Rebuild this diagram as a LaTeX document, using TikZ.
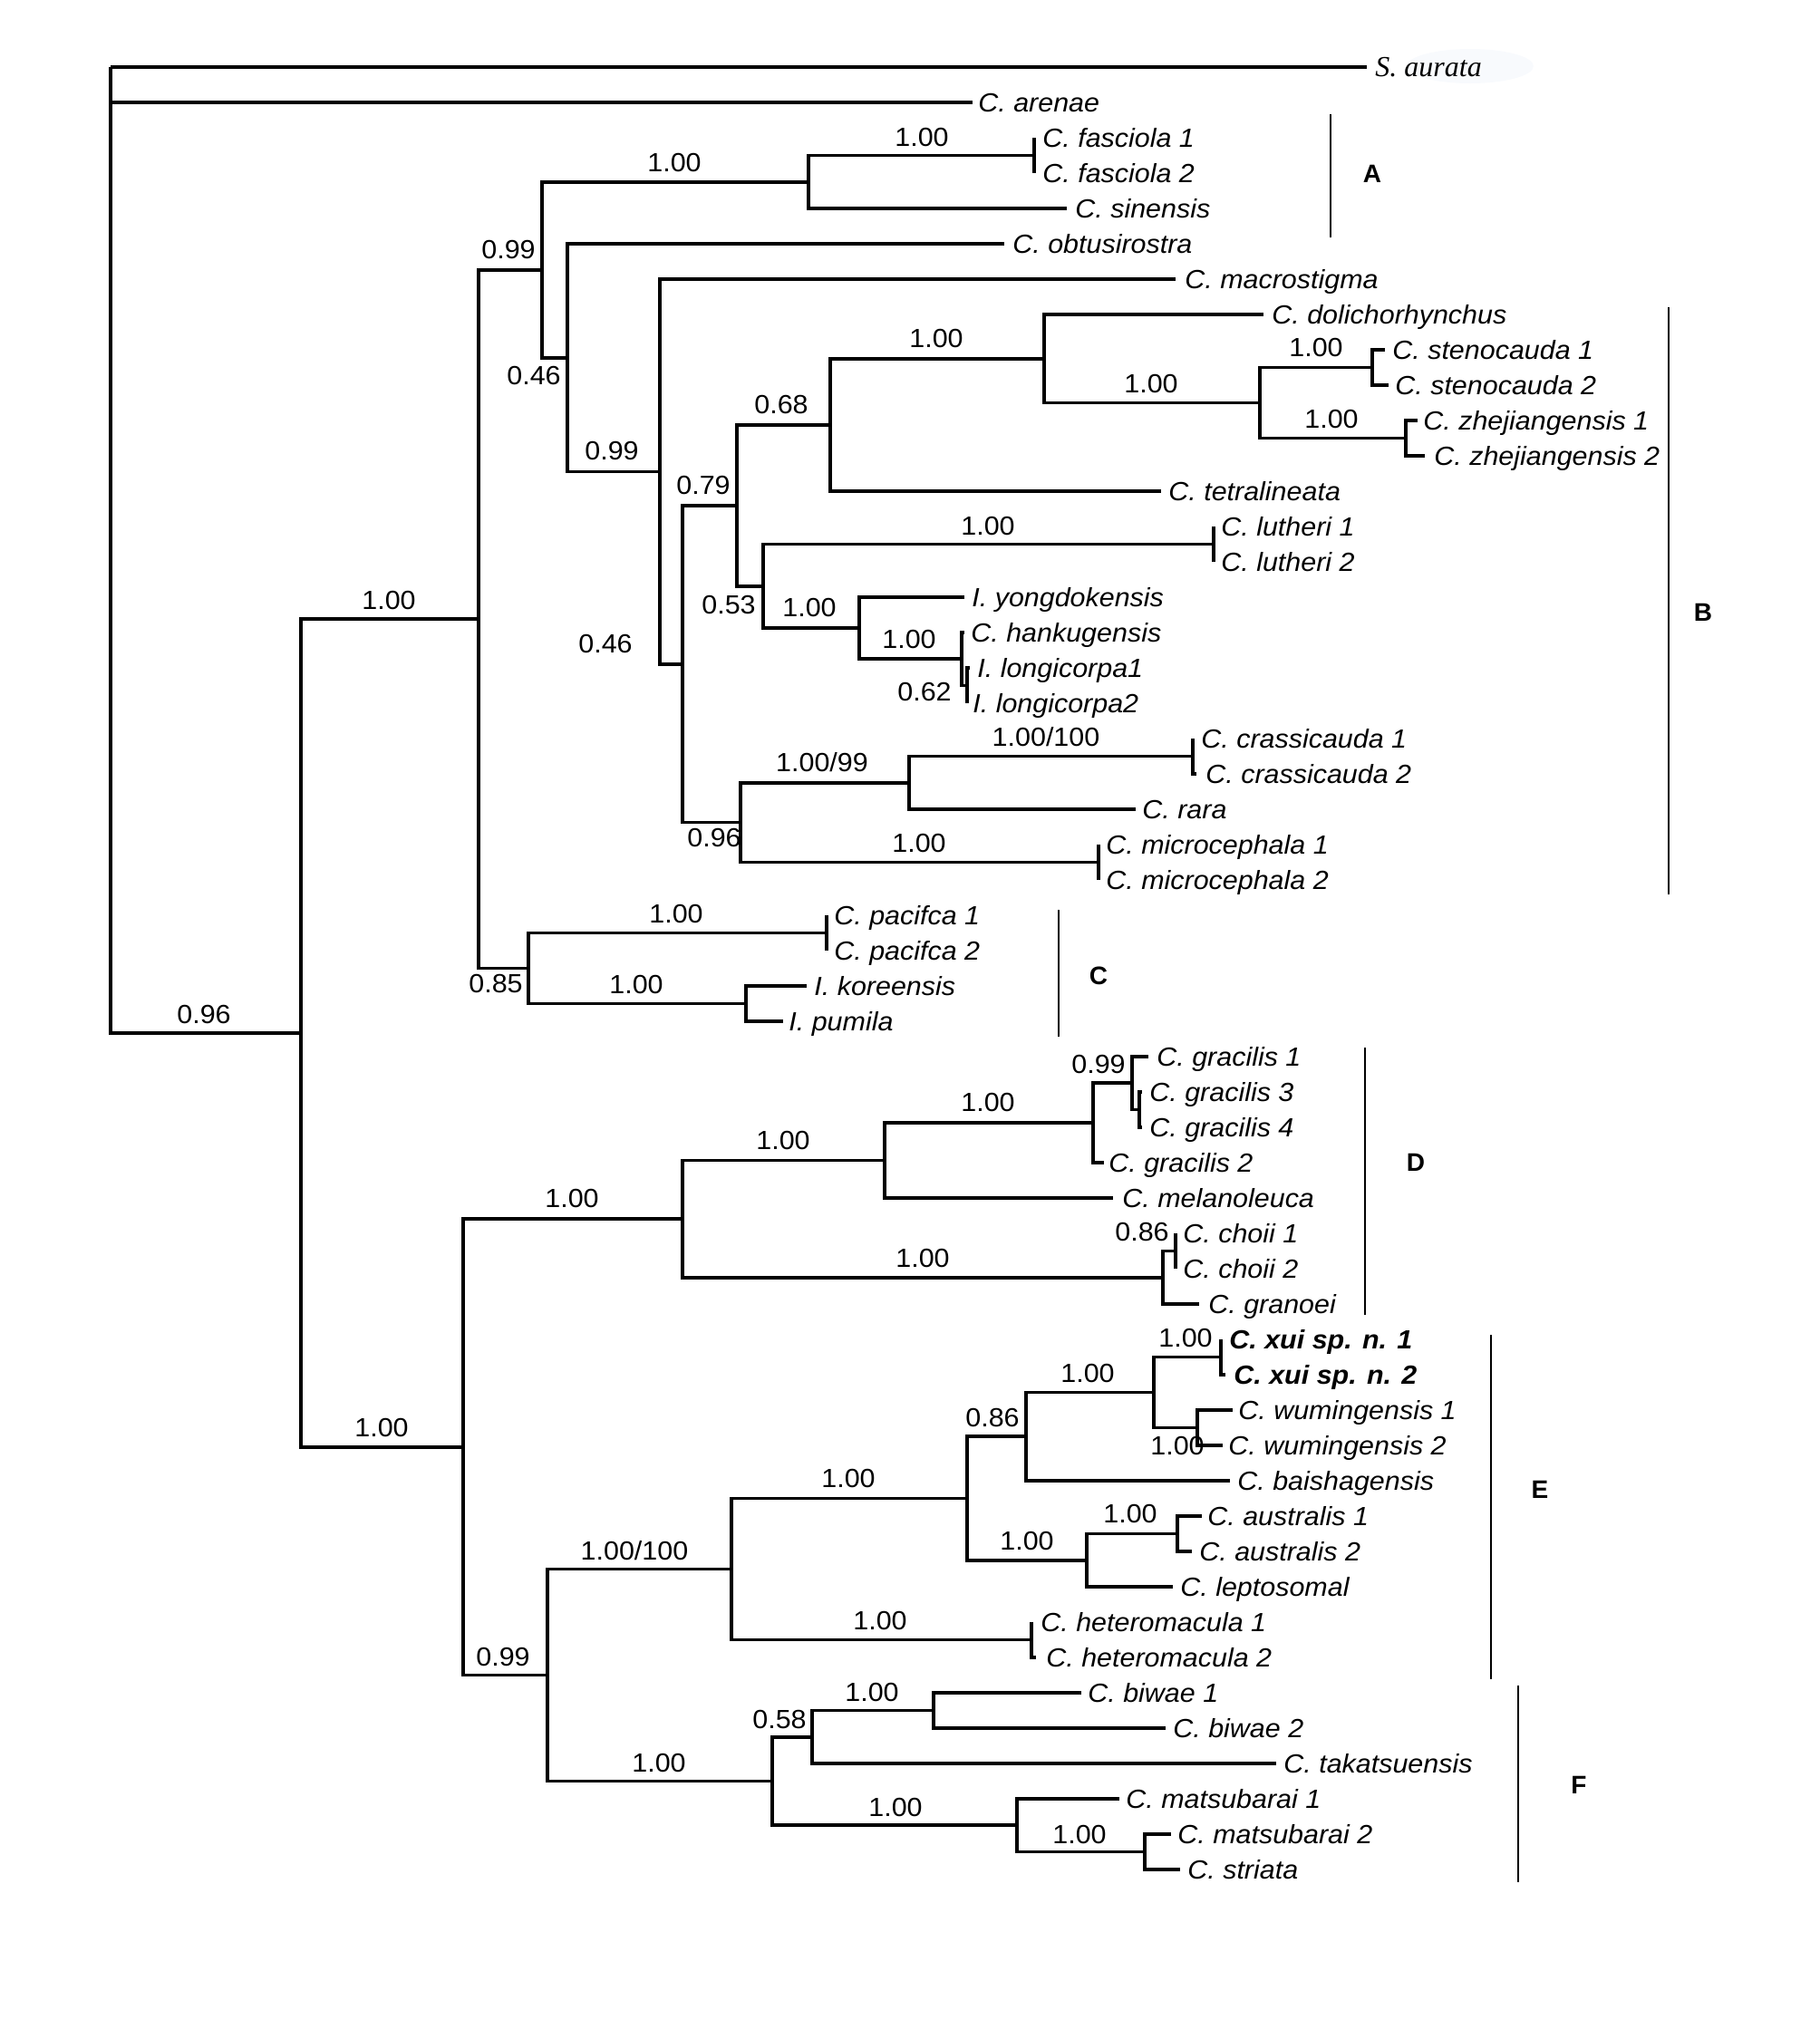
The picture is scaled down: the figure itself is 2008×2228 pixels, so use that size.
\documentclass[tikz,border=0pt]{standalone}
\usepackage{fontspec}
\setmainfont{Liberation Sans}[FakeStretch=1.05]
\newfontfamily\cladefont{Liberation Sans}
\newfontfamily\serifit{Liberation Serif}
\begin{document}
\begin{tikzpicture}[x=0.5pt,y=-0.5pt,
  br/.style={line width=1.8pt},
  cbar/.style={line width=1.2pt},
  sp/.style={anchor=base west,inner sep=0pt,yshift=-5.2pt,font=\fontsize{14.5}{17}\selectfont\itshape},
  spb/.style={anchor=base west,inner sep=0pt,yshift=-5.2pt,font=\fontsize{14.5}{17}\selectfont\bfseries\itshape},
  sps/.style={anchor=base west,inner sep=0pt,yshift=-5.3pt,font=\fontsize{16}{19}\selectfont\serifit\itshape},
  sv/.style={anchor=base,inner sep=0pt,yshift=-5.2pt,font=\fontsize{14.5}{17}\selectfont},
  cl/.style={anchor=base,inner sep=0pt,yshift=-5pt,font=\fontsize{14}{16}\selectfont\cladefont\bfseries},
]
\useasboundingbox (0,0) rectangle (2008,2228);
% faint smudge after S. aurata
\fill[color={rgb,255:red,248;green,250;blue,253}] (1622,73) ellipse [x radius=70, y radius=19];

% ---------- tip ends and labels ----------
\coordinate (e0) at (1508,74);  \node[sps] (t0) at (1517,74) {S. aurata};
\coordinate (e1) at (1073,113); \node[sp] (t1) at (1079,113) {C. arenae};
\coordinate (e2) at (1141,152); \node[sp] (t2) at (1150,152) {C. fasciola 1};
\coordinate (e3) at (1141,191); \node[sp] (t3) at (1150,191) {C. fasciola 2};
\coordinate (e4) at (1177,230); \node[sp] (t4) at (1186,230) {C. sinensis};
\coordinate (e5) at (1108,269); \node[sp] (t5) at (1117,269) {C. obtusirostra};
\coordinate (e6) at (1297,308); \node[sp] (t6) at (1307,308) {C. macrostigma};
\coordinate (e7) at (1394,347); \node[sp] (t7) at (1403,347) {C. dolichorhynchus};
\coordinate (e8) at (1528,386); \node[sp] (t8) at (1536,386) {C. stenocauda 1};
\coordinate (e9) at (1532,425); \node[sp] (t9) at (1539,425) {C. stenocauda 2};
\coordinate (e10) at (1564,464); \node[sp] (t10) at (1570,464) {C. zhejiangensis 1};
\coordinate (e11) at (1572,503); \node[sp] (t11) at (1582,503) {C. zhejiangensis 2};
\coordinate (e12) at (1281,542); \node[sp] (t12) at (1289,542) {C. tetralineata};
\coordinate (e13) at (1339,581); \node[sp] (t13) at (1347,581) {C. lutheri 1};
\coordinate (e14) at (1339,620); \node[sp] (t14) at (1347,620) {C. lutheri 2};
\coordinate (e15) at (1064,659); \node[sp] (t15) at (1072,659) {I. yongdokensis};
\coordinate (e16) at (1064,698); \node[sp] (t16) at (1071,698) {C. hankugensis};
\coordinate (e17) at (1070,737); \node[sp] (t17) at (1078,737) {I. longicorpa1};
\coordinate (e18) at (1067,776); \node[sp] (t18) at (1073,776) {I. longicorpa2};
\coordinate (e19) at (1316,815); \node[sp] (t19) at (1325,815) {C. crassicauda 1};
\coordinate (e20) at (1320,854); \node[sp] (t20) at (1330,854) {C. crassicauda 2};
\coordinate (e21) at (1253,893); \node[sp] (t21) at (1260,893) {C. rara};
\coordinate (e22) at (1212,932); \node[sp] (t22) at (1220,932) {C. microcephala 1};
\coordinate (e23) at (1212,971); \node[sp] (t23) at (1220,971) {C. microcephala 2};
\coordinate (e24) at (912,1010); \node[sp] (t24) at (920,1010) {C. pacifca 1};
\coordinate (e25) at (912,1049); \node[sp] (t25) at (920,1049) {C. pacifca 2};
\coordinate (e26) at (890,1088); \node[sp] (t26) at (898,1088) {I. koreensis};
\coordinate (e27) at (864,1127); \node[sp] (t27) at (870,1127) {I. pumila};
\coordinate (e28) at (1267,1166); \node[sp] (t28) at (1276,1166) {C. gracilis 1};
\coordinate (e29) at (1260,1205); \node[sp] (t29) at (1268,1205) {C. gracilis 3};
\coordinate (e30) at (1260,1244); \node[sp] (t30) at (1268,1244) {C. gracilis 4};
\coordinate (e31) at (1218,1283); \node[sp] (t31) at (1223,1283) {C. gracilis 2};
\coordinate (e32) at (1228,1322); \node[sp] (t32) at (1238,1322) {C. melanoleuca};
\coordinate (e33) at (1297,1361); \node[sp] (t33) at (1305,1361) {C. choii 1};
\coordinate (e34) at (1297,1400); \node[sp] (t34) at (1305,1400) {C. choii 2};
\coordinate (e35) at (1323,1439); \node[sp] (t35) at (1333,1439) {C. granoei};
\coordinate (e36) at (1347,1478); \node[spb] (t36) at (1356,1478) {C. xui sp. n. 1};
\coordinate (e37) at (1352,1517); \node[spb] (t37) at (1361,1517) {C. xui sp. n. 2};
\coordinate (e38) at (1360,1556); \node[sp] (t38) at (1366,1556) {C. wumingensis 1};
\coordinate (e39) at (1349,1595); \node[sp] (t39) at (1355,1595) {C. wumingensis 2};
\coordinate (e40) at (1357,1634); \node[sp] (t40) at (1365,1634) {C. baishagensis};
\coordinate (e41) at (1326,1673); \node[sp] (t41) at (1332,1673) {C. australis 1};
\coordinate (e42) at (1315,1712); \node[sp] (t42) at (1323,1712) {C. australis 2};
\coordinate (e43) at (1294,1751); \node[sp] (t43) at (1302,1751) {C. leptosomal};
\coordinate (e44) at (1138,1790); \node[sp] (t44) at (1148,1790) {C. heteromacula 1};
\coordinate (e45) at (1143,1829); \node[sp] (t45) at (1154,1829) {C. heteromacula 2};
\coordinate (e46) at (1193,1868); \node[sp] (t46) at (1200,1868) {C. biwae 1};
\coordinate (e47) at (1286,1907); \node[sp] (t47) at (1294,1907) {C. biwae 2};
\coordinate (e48) at (1408,1946); \node[sp] (t48) at (1416,1946) {C. takatsuensis};
\coordinate (e49) at (1235,1985); \node[sp] (t49) at (1242,1985) {C. matsubarai 1};
\coordinate (e50) at (1292,2024); \node[sp] (t50) at (1299,2024) {C. matsubarai 2};
\coordinate (e51) at (1302,2063); \node[sp] (t51) at (1310,2063) {C. striata};

% ---------- internal nodes ----------
\coordinate (root) at (122,74);
\coordinate (n1) at (332,1140);
\coordinate (n2) at (528,683);
\coordinate (n3) at (598,297.7);
\coordinate (nA) at (892,200.75);
\coordinate (nF) at (1141,171.5);
\coordinate (n4) at (626,394.7);
\coordinate (n5) at (728,520.4);
\coordinate (n6) at (753,732.7);
\coordinate (n7) at (813,557.8);
\coordinate (n8) at (916,468.9);
\coordinate (n9) at (1152,395.75);
\coordinate (n10) at (1390,444.5);
\coordinate (nS) at (1514,405.5);
\coordinate (nZ) at (1551,483.5);
\coordinate (n11) at (842,646.75);
\coordinate (nL) at (1339,600.5);
\coordinate (n12) at (948,693);
\coordinate (n13) at (1061,727.25);
\coordinate (nLo) at (1067,756.5);
\coordinate (n14) at (817,907.6);
\coordinate (n15) at (1003,863.75);
\coordinate (nCr) at (1316,834.5);
\coordinate (nMi) at (1212,951.5);
\coordinate (nC) at (583,1068.5);
\coordinate (nPa) at (912,1029.5);
\coordinate (nKo) at (823,1107.5);
\coordinate (m1) at (511,1597);
\coordinate (mD) at (753,1345.2);
\coordinate (m2) at (976,1280.6);
\coordinate (m3) at (1206,1239);
\coordinate (m4) at (1249,1195.25);
\coordinate (m5) at (1257,1224.5);
\coordinate (mCh) at (1283,1409.75);
\coordinate (mCh2) at (1297,1380.5);
\coordinate (mEF) at (604,1848.5);
\coordinate (mE) at (807,1731.5);
\coordinate (mE1) at (1067,1653.5);
\coordinate (mE2) at (1132,1585.25);
\coordinate (mE3) at (1273,1536.5);
\coordinate (mX) at (1347,1497.5);
\coordinate (mW) at (1321,1575.5);
\coordinate (mAu0) at (1199,1721.75);
\coordinate (mAu) at (1299,1692.5);
\coordinate (mH) at (1138,1809.5);
\coordinate (mF) at (852,1965.5);
\coordinate (mF1) at (896,1916.75);
\coordinate (mB) at (1030,1887.5);
\coordinate (mM) at (1122,2014.25);
\coordinate (mM2) at (1263,2043.5);

% ---------- branches ----------
\foreach \p/\c in {root/e0,root/e1,root/n1,
  n1/n2,n1/m1, n2/n3,n2/nC, n3/nA,n3/n4, nA/nF,nA/e4, nF/e2,nF/e3,
  n4/e5,n4/n5, n5/e6,n5/n6, n6/n7,n6/n14, n7/n8,n7/n11, n8/n9,n8/e12,
  n9/e7,n9/n10, n10/nS,n10/nZ, nS/e8,nS/e9, nZ/e10,nZ/e11,
  n11/nL,n11/n12, nL/e13,nL/e14, n12/e15,n12/n13, n13/e16,n13/nLo, nLo/e17,nLo/e18,
  n14/n15,n14/nMi, n15/nCr,n15/e21, nCr/e19,nCr/e20, nMi/e22,nMi/e23,
  nC/nPa,nC/nKo, nPa/e24,nPa/e25, nKo/e26,nKo/e27,
  m1/mD,m1/mEF, mD/m2,mD/mCh, m2/m3,m2/e32, m3/m4,m3/e31, m4/e28,m4/m5, m5/e29,m5/e30,
  mCh/mCh2,mCh/e35, mCh2/e33,mCh2/e34,
  mEF/mE,mEF/mF, mE/mE1,mE/mH, mE1/mE2,mE1/mAu0, mE2/mE3,mE2/e40, mE3/mX,mE3/mW,
  mX/e36,mX/e37, mW/e38,mW/e39, mAu0/mAu,mAu0/e43, mAu/e41,mAu/e42, mH/e44,mH/e45,
  mF/mF1,mF/mM, mF1/mB,mF1/e48, mB/e46,mB/e47, mM/e49,mM/mM2, mM2/e50,mM2/e51}
  {\draw[br] (\p) |- (\c);}

% ---------- support values ----------
\node[sv] (s1) at (225,1119) {0.96};
\node[sv] (s2) at (429,662) {1.00};
\node[sv] (s3) at (421,1575) {1.00};
\node[sv] (s4) at (561,275) {0.99};
\node[sv] (s5) at (744,179) {1.00};
\node[sv] (s6) at (1017,151) {1.00};
\node[sv] (s7) at (589,414) {0.46};
\node[sv] (s8) at (675,497) {0.99};
\node[sv] (s9) at (668,710) {0.46};
\node[sv] (s10) at (776,535) {0.79};
\node[sv] (s11) at (862,446) {0.68};
\node[sv] (s12) at (1033,373) {1.00};
\node[sv] (s13) at (1270,423) {1.00};
\node[sv] (s14) at (1452,383) {1.00};
\node[sv] (s15) at (1469,462) {1.00};
\node[sv] (s16) at (804,667) {0.53};
\node[sv] (s17) at (1090,580) {1.00};
\node[sv] (s18) at (893,670) {1.00};
\node[sv] (s19) at (1003,705) {1.00};
\node[sv] (s20) at (1020,763) {0.62};
\node[sv] (s21) at (788,924) {0.96};
\node[sv] (s22) at (907,841) {1.00/99};
\node[sv] (s23) at (1154,813) {1.00/100};
\node[sv] (s24) at (1014,930) {1.00};
\node[sv] (s25) at (547,1085) {0.85};
\node[sv] (s26) at (746,1008) {1.00};
\node[sv] (s27) at (702,1086) {1.00};
\node[sv] (s28) at (631,1322) {1.00};
\node[sv] (s29) at (864,1258) {1.00};
\node[sv] (s30) at (1090,1216) {1.00};
\node[sv] (s31) at (1212,1174) {0.99};
\node[sv] (s32) at (1018,1388) {1.00};
\node[sv] (s33) at (1260,1359) {0.86};
\node[sv] (s34) at (555,1828) {0.99};
\node[sv] (s35) at (700,1711) {1.00/100};
\node[sv] (s36) at (936,1631) {1.00};
\node[sv] (s37) at (1095,1564) {0.86};
\node[sv] (s38) at (1200,1515) {1.00};
\node[sv] (s39) at (1308,1476) {1.00};
\node[sv] (s40) at (1299,1595) {1.00};
\node[sv] (s41) at (1133,1700) {1.00};
\node[sv] (s42) at (1247,1670) {1.00};
\node[sv] (s43) at (971,1788) {1.00};
\node[sv] (s44) at (727,1945) {1.00};
\node[sv] (s45) at (860,1897) {0.58};
\node[sv] (s46) at (962,1867) {1.00};
\node[sv] (s47) at (988,1994) {1.00};
\node[sv] (s48) at (1191,2024) {1.00};

% ---------- clade bars ----------
\coordinate (Aa) at (1468,126);  \coordinate (Ab) at (1468,262);
\coordinate (Ba) at (1841,339);  \coordinate (Bb) at (1841,987);
\coordinate (Ca) at (1168,1004); \coordinate (Cb) at (1168,1144);
\coordinate (Da) at (1506,1156); \coordinate (Db) at (1506,1451);
\coordinate (Ea) at (1645,1473); \coordinate (Eb) at (1645,1853);
\coordinate (Fa) at (1675,1860); \coordinate (Fb) at (1675,2077);
\draw[cbar] (Aa) -- (Ab);
\draw[cbar] (Ba) -- (Bb);
\draw[cbar] (Ca) -- (Cb);
\draw[cbar] (Da) -- (Db);
\draw[cbar] (Ea) -- (Eb);
\draw[cbar] (Fa) -- (Fb);
\node[cl] (cA) at (1514,191) {A};
\node[cl] (cB) at (1879,675) {B};
\node[cl] (cC) at (1212,1076) {C};
\node[cl] (cD) at (1562,1282) {D};
\node[cl] (cE) at (1699,1643) {E};
\node[cl] (cF) at (1742,1969) {F};
\end{tikzpicture}
\end{document}
